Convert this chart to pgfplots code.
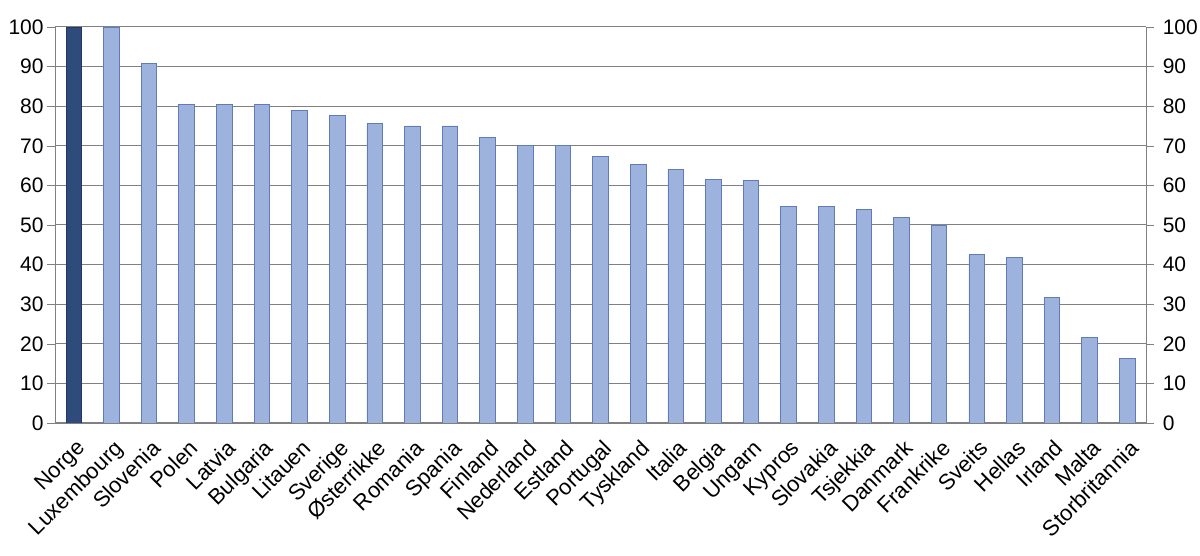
\documentclass[border=0pt]{standalone}
\usepackage{pgfplots}
\pgfplotsset{compat=1.18}
\usepackage{fontspec}
\setmainfont{Liberation Sans}

\definecolor{barlight}{HTML}{9DB3DE}
\definecolor{barline}{HTML}{5F7BB8}
\definecolor{bardark}{HTML}{2F4B7C}
\definecolor{bardarkline}{HTML}{22385F}
\definecolor{gridgray}{HTML}{808080}

% Norge plotted on its own, the rest in one series
\pgfplotstableread{
idx val
1 100
2 90.7
3 80.5
4 80.5
5 80.5
6 79.0
7 77.7
8 75.6
9 75.0
10 75.0
11 72.2
12 70.2
13 70.2
14 67.4
15 65.4
16 64.1
17 61.4
18 61.3
19 54.7
20 54.7
21 54.0
22 52.0
23 50.0
24 42.5
25 41.9
26 31.7
27 21.6
28 16.2
}\others

\begin{document}
\begin{tikzpicture}
\pgfplotsset{
  common/.style={
    scale only axis,
    width=545.5pt, height=198pt,
    xmin=-0.5, xmax=28.5,
    ymin=0, ymax=100,
    ytick={0,10,...,100},
    /pgf/number format/assume math mode=true,
    yticklabel style={font=\fontsize{10.5}{12}\selectfont, color=black, inner sep=0pt},
    axis line style={gridgray},
    major tick style={gridgray},
    tick align=outside,
    major tick length=4pt,
  }
}
\begin{axis}[
  common,
  axis y line*=left,
  axis x line*=bottom,
  ymajorgrids,
  grid style={gridgray, line width=0.5pt},
  xtick={0,...,28},
  x tick style={draw=none},
  xticklabels={Norge, Luxembourg, Slovenia, Polen, Latvia, Bulgaria, Litauen,
    Sverige, Østerrikke, Romania, Spania, Finland, Nederland, Estland,
    Portugal, Tyskland, Italia, Belgia, Ungarn, Kypros, Slovakia, Tsjekkia,
    Danmark, Frankrike, Sveits, Hellas, Irland, Malta, Storbritannia},
  xticklabel style={font=\fontsize{11}{13}\selectfont, rotate=45,
    anchor=north east, inner sep=1pt, yshift=-2pt, xshift=-1pt},
  yticklabel style={xshift=-1.5pt},
]
\addplot[ybar, bar width=7.8pt, bar shift=0pt, fill=bardark, draw=bardarkline]
  coordinates {(0,100)};
\addplot[ybar, bar width=7.8pt, bar shift=0pt, fill=barlight, draw=barline]
  table[x=idx, y=val] {\others};
\end{axis}
\begin{axis}[
  common,
  axis y line*=right,
  axis x line=none,
  yticklabel style={xshift=4.2pt},
]
\end{axis}
\path (current axis.south west) ++(-27.5pt,-66.5pt) coordinate (bl);
\path (current axis.north east) ++(27pt,13.5pt) coordinate (tr);
\pgfresetboundingbox
\useasboundingbox (bl) rectangle (tr);
\end{tikzpicture}
\end{document}
